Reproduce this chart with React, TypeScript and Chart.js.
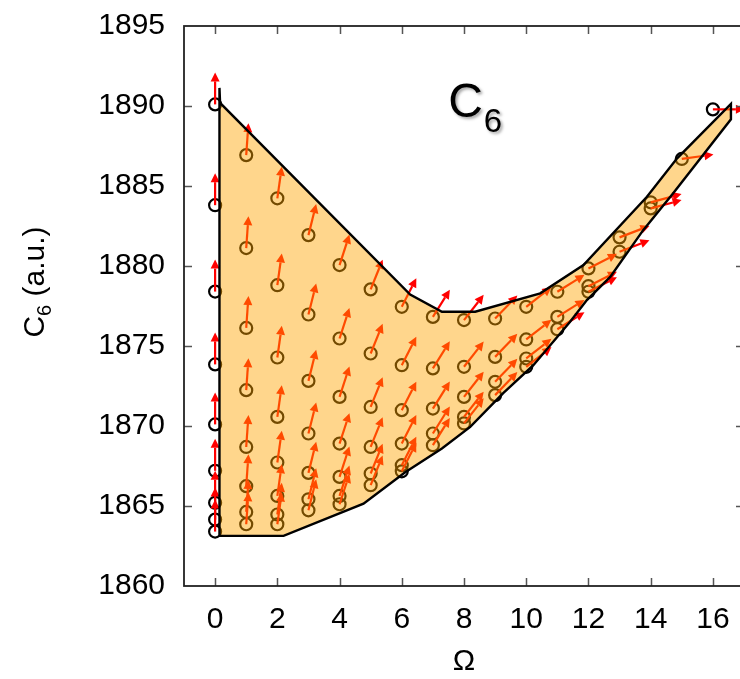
import React, { useEffect, useRef } from "react";
import { Chart, registerables } from "chart.js";

Chart.register(...registerables);

// Axis ticks
const omegaTicks = [0, 2, 4, 6, 8, 10, 12, 14, 16];
const c6Ticks = [1860, 1865, 1870, 1875, 1880, 1885, 1890, 1895];

// Sampled Ω columns and the C6 values computed in each column
const omegaColumns = [0, 1, 2, 3, 4, 5, 6, 7, 8, 9, 10, 11, 12, 13, 14, 15, 16];
const c6Columns = [
  [1890.1, 1883.8, 1878.4, 1873.85, 1870.1, 1867.2, 1865.2, 1864.15, 1863.4],
  [1886.93, 1881.12, 1876.13, 1872.24, 1868.69, 1866.24, 1864.63, 1863.86],
  [1884.23, 1878.8, 1874.28, 1870.57, 1867.72, 1865.63, 1864.47, 1863.86],
  [1881.93, 1876.97, 1872.82, 1869.53, 1867.07, 1865.42, 1864.73],
  [1880.06, 1875.47, 1871.82, 1868.9, 1866.82, 1865.63, 1865.11],
  [1878.54, 1874.53, 1871.19, 1868.69, 1867.03, 1866.3],
  [1877.45, 1873.8, 1870.99, 1868.9, 1867.55, 1867.17],
  [1876.82, 1873.6, 1871.09, 1869.53, 1868.8],
  [1876.62, 1873.7, 1871.82, 1870.57, 1870.16],
  [1876.72, 1874.32, 1872.76, 1871.93],
  [1877.45, 1875.41, 1874.22, 1873.7],
  [1878.39, 1876.82, 1876.05],
  [1879.85, 1878.74, 1878.39],
  [1881.79, 1880.89],
  [1883.98, 1883.6],
  [1886.69],
  [1889.79],
];

// Flow direction at each column, degrees clockwise from the +C6 direction
const arrowAngles = [0, 4, 8, 14, 18, 22, 27, 32, 38, 44, 52, 58, 63, 69, 75, 82, 90];

// Outline of the accessible region (Ω, C6)
const boundaryOmega = [
  0.14, 0.14, 0.16, 6.27, 7.29, 8.36, 10.45, 11.84, 13.88, 14.85, 16.58,
  16.58, 14.73, 13.76, 12.7, 11.95, 11.41, 10.23, 9.26, 8.2, 7.29, 6.11, 4.77, 2.2,
];
const boundaryC6 = [
  1863.13, 1891.13, 1890.19, 1878.22, 1877.14, 1877.14, 1878.29, 1880.06, 1884.33, 1886.73, 1890.13,
  1889.17, 1884.56, 1882.24, 1879.32, 1877.87, 1876.51, 1873.8, 1872.05, 1869.94, 1868.59, 1867.11, 1865.15, 1863.13,
];

// Position of the panel label
const panelLabelOmega = 7.49;
const panelLabelC6 = 1889.31;

const FONT = "'Liberation Sans', Arial, Helvetica, sans-serif";
const ARROW_LEN = 32;
const HEAD_LEN = 9;
const HEAD_HALF = 4.5;

const points = omegaColumns.flatMap((om, i) =>
  c6Columns[i].map((c) => ({ x: om, y: c }))
);

const decorations = {
  id: "decorations",
  afterDatasetsDraw(chart: any) {
    const { ctx, chartArea } = chart;
    const xs = chart.scales.x;
    const ys = chart.scales.y;

    // flow arrows
    ctx.save();
    ctx.strokeStyle = "#ff0000";
    ctx.fillStyle = "#ff0000";
    ctx.lineWidth = 2.2;
    omegaColumns.forEach((om, i) => {
      const a = (arrowAngles[i] * Math.PI) / 180;
      const ux = Math.sin(a);
      const uy = -Math.cos(a);
      c6Columns[i].forEach((c) => {
        const x0 = xs.getPixelForValue(om);
        const y0 = ys.getPixelForValue(c);
        const tx = x0 + ux * ARROW_LEN;
        const ty = y0 + uy * ARROW_LEN;
        const bx = tx - ux * HEAD_LEN;
        const by = ty - uy * HEAD_LEN;
        ctx.beginPath();
        ctx.moveTo(x0, y0);
        ctx.lineTo(bx, by);
        ctx.stroke();
        ctx.beginPath();
        ctx.moveTo(tx, ty);
        ctx.lineTo(bx - uy * HEAD_HALF, by + ux * HEAD_HALF);
        ctx.lineTo(bx + uy * HEAD_HALF, by - ux * HEAD_HALF);
        ctx.closePath();
        ctx.fill();
      });
    });
    ctx.restore();

    // accessible region
    ctx.save();
    ctx.beginPath();
    ctx.rect(chartArea.left, chartArea.top, chartArea.right - chartArea.left, chartArea.bottom - chartArea.top);
    ctx.clip();
    ctx.beginPath();
    boundaryOmega.forEach((om, i) => {
      const px = xs.getPixelForValue(om);
      const py = ys.getPixelForValue(boundaryC6[i]);
      if (i === 0) ctx.moveTo(px, py);
      else ctx.lineTo(px, py);
    });
    ctx.closePath();
    ctx.fillStyle = "rgba(255,165,0,0.45)";
    ctx.fill();
    ctx.strokeStyle = "#000";
    ctx.lineWidth = 2.4;
    ctx.lineJoin = "miter";
    ctx.stroke();
    ctx.restore();

    // frame with inward ticks
    ctx.save();
    const { left, right, top, bottom } = chartArea;
    ctx.strokeStyle = "#555";
    ctx.lineWidth = 1.5;
    ctx.beginPath();
    omegaTicks.forEach((t) => {
      const px = Math.round(xs.getPixelForValue(t)) + 0.5;
      ctx.moveTo(px, bottom);
      ctx.lineTo(px, bottom - 8);
      ctx.moveTo(px, top);
      ctx.lineTo(px, top + 8);
    });
    c6Ticks.slice(1, -1).forEach((t) => {
      const py = Math.round(ys.getPixelForValue(t)) + 0.5;
      ctx.moveTo(left, py);
      ctx.lineTo(left + 8, py);
      ctx.moveTo(right, py);
      ctx.lineTo(right - 8, py);
    });
    ctx.stroke();
    ctx.strokeStyle = "#222";
    ctx.lineWidth = 1.8;
    ctx.strokeRect(left, top, right - left, bottom - top);
    ctx.restore();

    // panel label C6
    ctx.save();
    const lx = xs.getPixelForValue(panelLabelOmega);
    const ly = ys.getPixelForValue(panelLabelC6);
    ctx.fillStyle = "#000";
    ctx.shadowColor = "rgba(0,0,0,0.35)";
    ctx.shadowOffsetX = 2;
    ctx.shadowOffsetY = 2;
    ctx.shadowBlur = 3;
    ctx.textBaseline = "alphabetic";
    ctx.textAlign = "left";
    ctx.font = `48px ${FONT}`;
    ctx.fillText("C", lx, ly);
    const cw = ctx.measureText("C").width;
    ctx.font = `33px ${FONT}`;
    ctx.fillText("6", lx + cw + 1, ly + 15);
    ctx.restore();

    // axis titles
    ctx.save();
    ctx.fillStyle = "#000";
    ctx.textBaseline = "middle";
    ctx.textAlign = "center";
    ctx.font = `30px ${FONT}`;
    ctx.fillText("Ω", (left + right) / 2, 662);

    ctx.translate(34, 282);
    ctx.rotate(-Math.PI / 2);
    ctx.textBaseline = "alphabetic";
    ctx.textAlign = "left";
    ctx.font = `30px ${FONT}`;
    const wC = ctx.measureText("C").width;
    const wRest = ctx.measureText(" (a.u.)").width;
    ctx.font = `20px ${FONT}`;
    const w6 = ctx.measureText("6").width;
    const total = wC + w6 + wRest;
    let x = -total / 2;
    const base = 10;
    ctx.font = `30px ${FONT}`;
    ctx.fillText("C", x, base);
    x += wC;
    ctx.font = `20px ${FONT}`;
    ctx.fillText("6", x, base + 7);
    x += w6;
    ctx.font = `30px ${FONT}`;
    ctx.fillText(" (a.u.)", x, base);
    ctx.restore();
  },
};

export default function App() {
  const canvasRef = useRef<HTMLCanvasElement | null>(null);

  useEffect(() => {
    document.body.style.margin = "0";
    const canvas = canvasRef.current;
    if (!canvas) return;
    const chart = new Chart(canvas, {
      type: "scatter",
      data: {
        datasets: [
          {
            label: "C6",
            data: points,
            pointStyle: "circle",
            pointRadius: 6,
            pointBorderWidth: 2.2,
            pointBorderColor: "#000",
            pointBackgroundColor: "rgba(0,0,0,0)",
            showLine: false,
          },
        ],
      },
      options: {
        animation: false,
        responsive: false,
        devicePixelRatio: 1,
        events: [],
        layout: { padding: { top: 26, right: 16, left: 0, bottom: 0 } },
        plugins: {
          legend: { display: false },
          tooltip: { enabled: false },
          title: { display: false },
        },
        scales: {
          x: {
            type: "linear",
            min: -1,
            max: 17,
            grid: { display: false, drawTicks: false },
            border: { display: false },
            afterBuildTicks: (scale: any) => {
              scale.ticks = omegaTicks.map((v) => ({ value: v }));
            },
            afterFit: (scale: any) => {
              scale.height = 93;
              scale.paddingLeft = 0;
              scale.paddingRight = 0;
            },
            ticks: {
              padding: 16,
              color: "#000",
              font: { family: FONT, size: 30 },
              maxRotation: 0,
              autoSkip: false,
              callback: (v: any) => String(v),
            },
          },
          y: {
            type: "linear",
            min: 1860,
            max: 1895,
            grid: { display: false, drawTicks: false },
            border: { display: false },
            afterBuildTicks: (scale: any) => {
              scale.ticks = c6Ticks.map((v) => ({ value: v }));
            },
            afterFit: (scale: any) => {
              scale.width = 184;
              scale.paddingTop = 0;
              scale.paddingBottom = 0;
            },
            ticks: {
              padding: 19,
              color: "#000",
              font: { family: FONT, size: 30 },
              autoSkip: false,
              callback: (v: any) => String(v),
            },
          },
        },
      },
      plugins: [decorations],
    });
    return () => chart.destroy();
  }, []);

  return (
    <div style={{ width: 740, height: 679, overflow: "hidden", position: "relative", background: "#fff" }}>
      <canvas
        ref={canvasRef}
        width={760}
        height={679}
        style={{ position: "absolute", left: 0, top: 0, width: 760, height: 679 }}
      />
    </div>
  );
}
